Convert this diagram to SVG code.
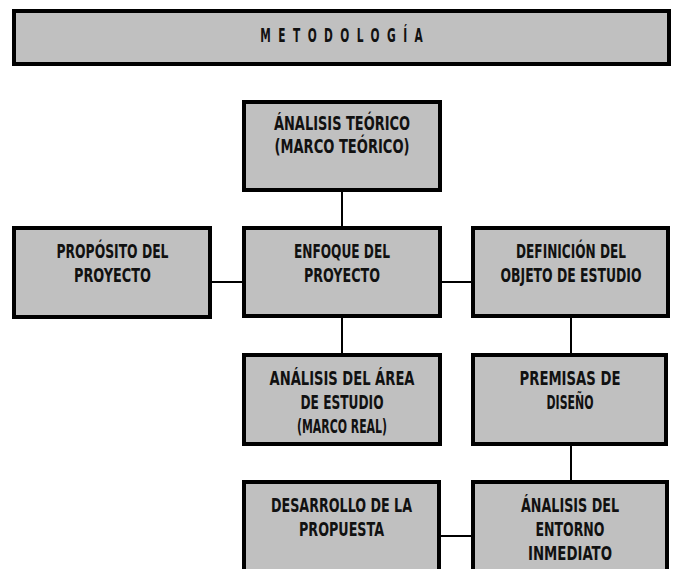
<svg xmlns="http://www.w3.org/2000/svg" width="676" height="569" viewBox="0 0 676 569">
<style>
.box{fill:#c0c0c0;stroke:#000;stroke-width:4}
.t{font-family:"Liberation Sans Narrow","DejaVu Sans Condensed","Liberation Sans",sans-serif;font-weight:bold;font-size:20px;fill:#111;text-anchor:middle}
.ttl{font-family:"DejaVu Sans Condensed","Liberation Sans",sans-serif;font-weight:bold;font-size:19px;fill:#111;text-anchor:middle}
.c{stroke:#000;stroke-width:2;fill:none}
</style>
<rect width="676" height="569" fill="#fff"/>
<g id="connectors">
<line class="c" x1="342" y1="192" x2="342" y2="226"/>
<line class="c" x1="212" y1="282" x2="242" y2="282"/>
<line class="c" x1="442" y1="282" x2="471" y2="282"/>
<line class="c" x1="342" y1="318" x2="342" y2="353"/>
<line class="c" x1="571" y1="318" x2="571" y2="353"/>
<line class="c" x1="571" y1="446" x2="571" y2="480"/>
<line class="c" x1="441" y1="536" x2="471" y2="536"/>
</g>
<g id="titulo">
<rect class="box" x="14" y="11" width="655" height="53"/>
<text class="ttl" transform="translate(341.5,42) scale(0.62,1)" x="0" y="0" textLength="262" lengthAdjust="spacing">METODOLOGÍA</text>
</g>
<g id="analisis-teorico">
<rect class="box" x="244" y="102" width="196" height="88"/>
<text class="t" x="342" y="130" textLength="136" lengthAdjust="spacingAndGlyphs">ÁNALISIS TEÓRICO</text>
<text class="t" x="342" y="153" textLength="135" lengthAdjust="spacingAndGlyphs">(MARCO TEÓRICO)</text>
</g>
<g id="proposito">
<rect class="box" x="14" y="228" width="196" height="89"/>
<text class="t" x="112.5" y="258" textLength="112" lengthAdjust="spacingAndGlyphs">PROPÓSITO DEL</text>
<text class="t" x="112.5" y="282" textLength="77" lengthAdjust="spacingAndGlyphs">PROYECTO</text>
</g>
<g id="enfoque">
<rect class="box" x="244" y="228" width="196" height="88"/>
<text class="t" x="342" y="258" textLength="96" lengthAdjust="spacingAndGlyphs">ENFOQUE DEL</text>
<text class="t" x="342" y="282" textLength="76" lengthAdjust="spacingAndGlyphs">PROYECTO</text>
</g>
<g id="definicion">
<rect class="box" x="473" y="228" width="195" height="88"/>
<text class="t" x="571" y="258" textLength="110" lengthAdjust="spacingAndGlyphs">DEFINICIÓN DEL</text>
<text class="t" x="571" y="282" textLength="141" lengthAdjust="spacingAndGlyphs">OBJETO DE ESTUDIO</text>
</g>
<g id="analisis-area">
<rect class="box" x="244" y="355" width="196" height="89"/>
<text class="t" x="342" y="385" textLength="145" lengthAdjust="spacingAndGlyphs">ANÁLISIS DEL ÁREA</text>
<text class="t" x="342" y="409" textLength="83" lengthAdjust="spacingAndGlyphs">DE ESTUDIO</text>
<text class="t" x="342" y="433" textLength="90" lengthAdjust="spacingAndGlyphs">(MARCO REAL)</text>
</g>
<g id="premisas">
<rect class="box" x="473" y="355" width="193" height="89"/>
<text class="t" x="570" y="385" textLength="101" lengthAdjust="spacingAndGlyphs">PREMISAS DE</text>
<text class="t" x="570" y="409" textLength="47" lengthAdjust="spacingAndGlyphs">DISEÑO</text>
</g>
<g id="desarrollo">
<rect class="box" x="244" y="482" width="195" height="89"/>
<text class="t" x="341.5" y="512" textLength="141" lengthAdjust="spacingAndGlyphs">DESARROLLO DE LA</text>
<text class="t" x="341.5" y="536" textLength="85" lengthAdjust="spacingAndGlyphs">PROPUESTA</text>
</g>
<g id="analisis-entorno">
<rect class="box" x="473" y="482" width="194" height="89"/>
<text class="t" x="570" y="512" textLength="98" lengthAdjust="spacingAndGlyphs">ÁNALISIS DEL</text>
<text class="t" x="570" y="536" textLength="69" lengthAdjust="spacingAndGlyphs">ENTORNO</text>
<text class="t" x="570" y="560" textLength="84" lengthAdjust="spacingAndGlyphs">INMEDIATO</text>
</g>
</svg>
